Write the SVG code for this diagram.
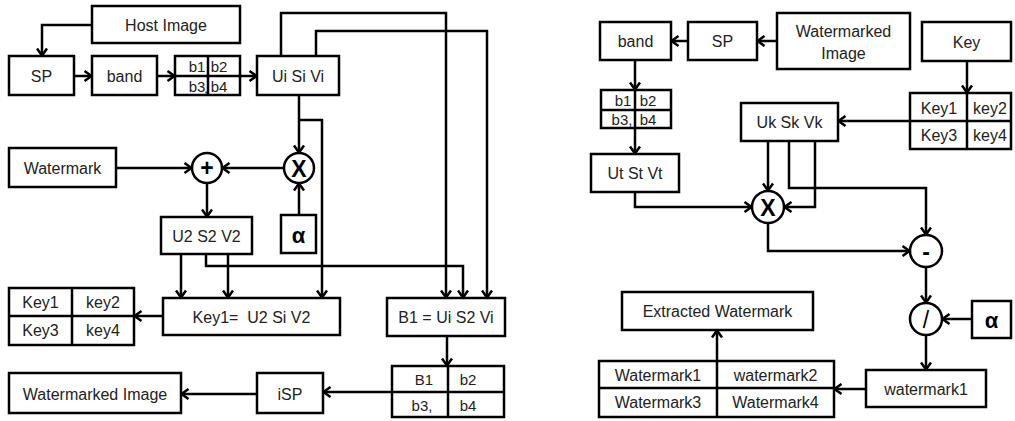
<svg xmlns="http://www.w3.org/2000/svg" width="1015" height="421" viewBox="0 0 1015 421">
<style>
.b{fill:#fff;stroke:#000;stroke-width:2.5}
.l{fill:none;stroke:#000;stroke-width:2.5}
.c{fill:none;stroke:#000;stroke-width:2.5;marker-end:url(#a)}
text{font-family:"Liberation Sans",Arial,sans-serif;font-size:16px;fill:#222;text-anchor:middle;dominant-baseline:central}
.s{font-size:15px}
.op{font-size:23px;font-weight:bold;fill:#000}
.al{font-size:22px;font-weight:bold;fill:#000}
</style>
<defs>
<marker id="a" markerWidth="12" markerHeight="12" refX="9.5" refY="6" orient="auto" markerUnits="userSpaceOnUse">
<path d="M2,1 L9,6 L2,11" fill="none" stroke="#000" stroke-width="2.5"/>
</marker>
</defs>
<rect width="1015" height="421" fill="#fff"/>
<g id="connectors">
<path class="c" d="M92,25 H42 V56"/>
<path class="c" d="M74,76 H92"/>
<path class="c" d="M157,76 H175"/>
<path class="c" d="M240,76 H257"/>
<path class="c" d="M281,56 V13 H446 V298"/>
<path class="c" d="M316,56 V31 H487 V298"/>
<path class="c" d="M299,95 V153"/>
<path class="c" d="M299,120 H322 V298"/>
<path class="c" d="M299,215 V183"/>
<path class="c" d="M284,168 H222"/>
<path class="c" d="M116,168 H192"/>
<path class="c" d="M207,183 V217"/>
<path class="c" d="M181,254 V298"/>
<path class="c" d="M228,254 V298"/>
<path class="c" d="M206,254 V266 H463 V298"/>
<path class="c" d="M163,316 H134"/>
<path class="c" d="M447,336 V366"/>
<path class="c" d="M392,392 H323"/>
<path class="c" d="M257,394 H181"/>
<path class="c" d="M777,41 H757"/>
<path class="c" d="M688,41 H671"/>
<path class="c" d="M635,60 V90"/>
<path class="c" d="M635,128 V154"/>
<path class="c" d="M635,192 V207 H752"/>
<path class="c" d="M967,61 V93"/>
<path class="c" d="M910,121 H838"/>
<path class="c" d="M768,141 V191"/>
<path class="c" d="M789,141 V188 H926 V235"/>
<path class="c" d="M815,141 V207 H784"/>
<path class="c" d="M768,223 V251 H910"/>
<path class="c" d="M926,268 V303"/>
<path class="c" d="M972,319 H942"/>
<path class="c" d="M926,335 V370"/>
<path class="c" d="M866,389 H834"/>
<path class="c" d="M717,361 V330"/>
</g>
<g id="host-image"><rect class="b" x="92" y="6" width="148" height="37"/><text x="166" y="25">Host Image</text></g>
<g id="sp-left"><rect class="b" x="9" y="56" width="65" height="39"/><text x="41.5" y="76">SP</text></g>
<g id="band-left"><rect class="b" x="92" y="56" width="65" height="39"/><text x="124.5" y="76">band</text></g>
<g id="bands-left"><rect class="b" x="175" y="56" width="65" height="39"/><path class="l" d="M175,76 H240" stroke-width="1.5"/><path class="l" d="M208,56 V95" stroke-width="1.5"/>
<text class="s" x="197" y="66">b1</text><text class="s" x="219" y="66">b2</text><text class="s" x="197" y="86">b3</text><text class="s" x="219" y="86">b4</text><text class="s" x="206" y="87">,</text></g>
<g id="ui-si-vi"><rect class="b" x="257" y="56" width="82" height="39"/><text x="298" y="76">Ui Si Vi</text></g>
<g id="watermark"><rect class="b" x="9" y="148" width="107" height="39"/><text x="62.5" y="168">Watermark</text></g>
<g id="plus"><circle class="b" cx="207" cy="168" r="15"/><text class="op" x="207" y="168">+</text></g>
<g id="mult-left"><circle class="b" cx="299" cy="168" r="15"/><text class="op" x="299" y="169">X</text></g>
<g id="alpha-left"><rect class="b" x="281" y="215" width="35" height="38"/><text class="al" x="298.5" y="235">α</text></g>
<g id="u2-s2-v2"><rect class="b" x="161" y="217" width="91" height="37"/><text x="206.5" y="236">U2 S2 V2</text></g>
<g id="key-table-left"><rect class="b" x="9" y="288" width="125" height="57"/><path class="l" d="M9,316 H134 M72,288 V345"/>
<text x="40.5" y="302">Key1</text><text x="103" y="302">key2</text><text x="40.5" y="330">Key3</text><text x="103" y="330">key4</text></g>
<g id="key1-eq"><rect class="b" x="163" y="298" width="177" height="37"/><text x="251.5" y="317">Key1=&#160; U2 Si V2</text></g>
<g id="b1-eq"><rect class="b" x="387" y="298" width="118" height="38"/><text x="446" y="317">B1 = Ui S2 Vi</text></g>
<g id="bands-out"><rect class="b" x="392" y="366" width="112" height="51"/><path class="l" d="M392,392 H504 M448,366 V417"/>
<text class="s" x="424" y="379">B1</text><text class="s" x="468" y="379">b2</text><text class="s" x="422" y="405">b3,</text><text class="s" x="468" y="405">b4</text></g>
<g id="isp"><rect class="b" x="257" y="373" width="66" height="40"/><text x="290" y="394">iSP</text></g>
<g id="watermarked-image-left"><rect class="b" x="9" y="373" width="172" height="40"/><text x="95" y="394">Watermarked Image</text></g>
<g id="band-right"><rect class="b" x="600" y="22" width="71" height="38"/><text x="635.5" y="41">band</text></g>
<g id="sp-right"><rect class="b" x="688" y="22" width="69" height="38"/><text x="722.5" y="41">SP</text></g>
<g id="watermarked-image-right"><rect class="b" x="777" y="13" width="133" height="56"/><text x="843.5" y="31">Watermarked</text><text x="843.5" y="53">Image</text></g>
<g id="key"><rect class="b" x="922" y="22" width="89" height="39"/><text x="966.5" y="42">Key</text></g>
<g id="bands-right"><rect class="b" x="601" y="90" width="70" height="38"/><path class="l" d="M601,110 H671 M635,90 V128" stroke-width="1.5"/>
<text class="s" x="623" y="100">b1</text><text class="s" x="648" y="100">b2</text><text class="s" x="622" y="119">b3,</text><text class="s" x="648" y="119">b4</text></g>
<g id="key-table-right"><rect class="b" x="910" y="93" width="101" height="56"/><path class="l" d="M910,121 H1011 M967,93 V149"/>
<text x="939" y="108">Key1</text><text x="990" y="108">key2</text><text x="939" y="135">Key3</text><text x="990" y="135">key4</text></g>
<g id="uk-sk-vk"><rect class="b" x="741" y="103" width="97" height="38"/><text x="789.5" y="122">Uk Sk Vk</text></g>
<g id="ut-st-vt"><rect class="b" x="591" y="154" width="88" height="38"/><text x="635" y="173">Ut St Vt</text></g>
<g id="mult-right"><circle class="b" cx="768" cy="207" r="16"/><text class="op" x="768" y="208">X</text></g>
<g id="minus"><circle class="b" cx="926" cy="251" r="16"/><text class="op" x="926" y="252">-</text></g>
<g id="divide"><circle class="b" cx="926" cy="319" r="16"/><text class="op" x="926" y="320" style="font-weight:normal">/</text></g>
<g id="alpha-right"><rect class="b" x="972" y="301" width="39" height="37"/><text class="al" x="991.5" y="320">α</text></g>
<g id="watermark1"><rect class="b" x="866" y="370" width="120" height="37"/><text x="926" y="389">watermark1</text></g>
<g id="watermark-table"><rect class="b" x="599" y="361" width="235" height="56"/><path class="l" d="M599,388 H834 M717,361 V417"/>
<text x="658" y="375">Watermark1</text><text x="775.5" y="375">watermark2</text><text x="658" y="402">Watermark3</text><text x="775.5" y="402">Watermark4</text></g>
<g id="extracted-watermark"><rect class="b" x="622" y="292" width="191" height="38"/><text x="717.5" y="311">Extracted Watermark</text></g>
</svg>
